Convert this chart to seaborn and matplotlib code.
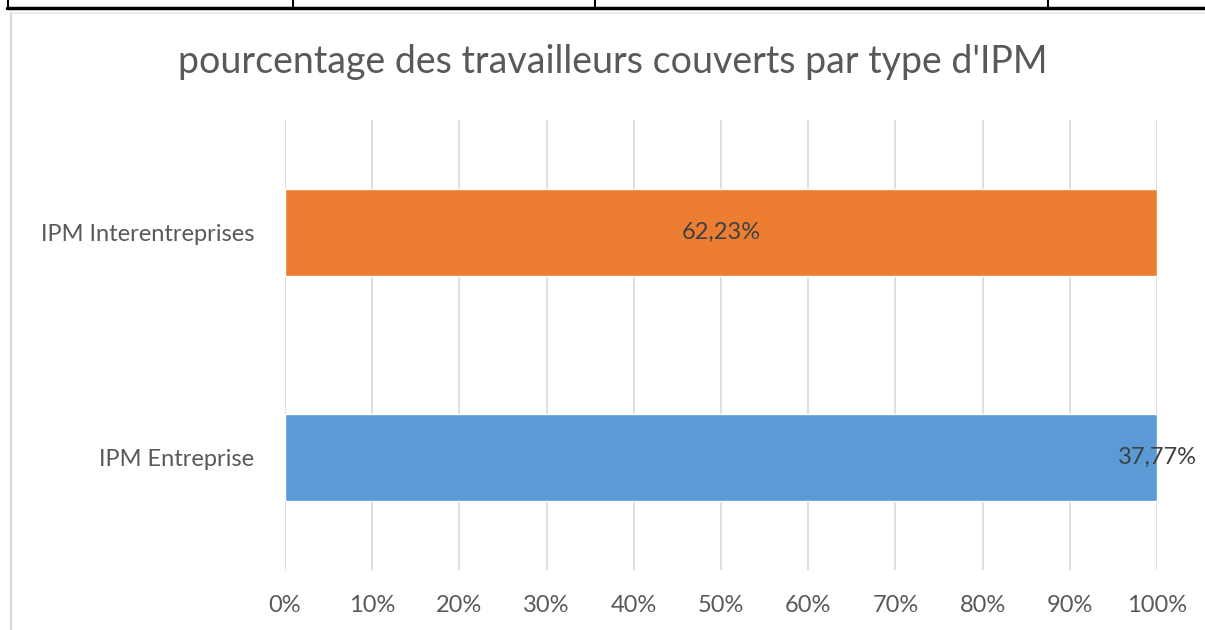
import matplotlib
matplotlib.use("Agg")
import matplotlib.pyplot as plt
import seaborn as sns
import pandas as pd
from matplotlib.lines import Line2D
from matplotlib.ticker import FuncFormatter

categories = ["IPM Interentreprises", "IPM Entreprise"]
values = [62.23, 37.77]
value_labels = ["62,23%", "37,77%"]
colors = ["#ED7D31", "#5B9BD5"]
title = "pourcentage des travailleurs couverts par type d'IPM"
xticks = [0, 10, 20, 30, 40, 50, 60, 70, 80, 90, 100]

sns.set_theme(style="white")
plt.rcParams['font.family'] = ['Lato', 'DejaVu Sans']

df = pd.DataFrame({"cat": categories, "value": values})
# 100% stacked: each bar is its share of its own category total
df["share"] = df["value"] / df.groupby("cat")["value"].transform("sum") * 100

fig = plt.figure(figsize=(12.05, 6.3), dpi=100)
ax = fig.add_axes([285/1205, 1-570/630, (1157-285)/1205, (570-120)/630])

sns.barplot(data=df, x="share", y="cat", hue="cat", palette=colors, order=categories,
            orient="h", width=0.385, ax=ax, legend=False, saturation=1, zorder=3)

ax.set_xlim(0, 100)
ax.set_ylim(1.5, -0.5)
ax.set_xticks(xticks)
ax.xaxis.set_major_formatter(FuncFormatter(lambda v, p: f"{int(v)}%"))
ax.grid(axis="x", color="#D9D9D9", linewidth=1.2, zorder=0)
ax.set_axisbelow(True)
for s in ax.spines.values():
    s.set_visible(False)
ax.set_xlabel("")
ax.set_ylabel("")
ax.tick_params(axis="x", labelsize=17, labelcolor="#595959", length=0, pad=18)
ax.tick_params(axis="y", labelsize=17, labelcolor="#595959", length=0, pad=22)

# data labels
ax.text(df["share"].iloc[0] / 2, 0, value_labels[0], ha="center", va="center",
        fontsize=17, color="#404040", zorder=5)
ax.text(df["share"].iloc[1], 1, value_labels[1], ha="center", va="center",
        fontsize=17, color="#404040", zorder=5)

fig.text(0.5 * (180 + 1045) / 1205, 1 - 62/630, title, ha="center", va="center",
         fontsize=27, color="#595959")

# chart area border
fig.add_artist(Line2D([11/1205, 11/1205], [0, 1 - 13/630], transform=fig.transFigure,
                      color="#D9D9D9", linewidth=1.5))
fig.add_artist(Line2D([11/1205, 1], [1 - 13/630, 1 - 13/630], transform=fig.transFigure,
                      color="#E6E6E6", linewidth=1.2))
# table borders at top
fig.add_artist(Line2D([7/1205, 1], [1 - 8/630, 1 - 8/630], transform=fig.transFigure,
                      color="black", linewidth=2.5))
for xv in [8, 293, 595, 1048]:
    fig.add_artist(Line2D([xv/1205, xv/1205], [1 - 9/630, 1], transform=fig.transFigure,
                          color="black", linewidth=1.5))

fig.savefig("out.png", dpi=100)
